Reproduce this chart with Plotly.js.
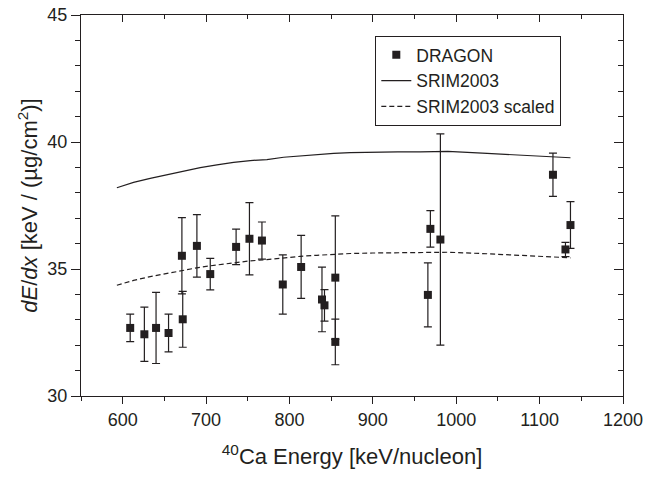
<!DOCTYPE html>
<html>
<head>
<meta charset="utf-8">
<script src="https://cdn.plot.ly/plotly-3.0.1.min.js"></script>
<style>html,body{margin:0;padding:0;background:#fff;}#chart{width:646px;height:480px;}</style>
</head>
<body>
<div id="chart"></div>
<script>
// DRAGON measured stopping powers
const energy = [609, 626, 640, 655, 672, 671, 689, 705, 736, 752, 767, 792, 814, 839, 842, 855, 855, 966, 969, 981, 1116, 1131, 1137];
const dedx   = [32.68, 32.43, 32.68, 32.48, 33.02, 35.52, 35.91, 34.80, 35.87, 36.19, 36.12, 34.39, 35.08, 33.80, 33.57, 34.66, 32.13, 33.98, 36.58, 36.16, 38.71, 35.77, 36.73];
const dedxErr = [0.54, 1.07, 1.40, 0.74, 1.10, 1.50, 1.23, 0.62, 0.70, 1.42, 0.73, 1.17, 1.24, 1.27, 0.62, 2.43, 0.90, 1.26, 0.72, 4.16, 0.85, 0.28, 0.92];

// SRIM2003 curves
const srimEnergy = [593, 613, 633, 653, 673, 693, 713, 733, 753, 773, 793, 813, 833, 853, 873, 900, 930, 957, 990, 1037, 1080, 1110, 1137];
const srim       = [38.20, 38.41, 38.57, 38.72, 38.87, 38.99, 39.10, 39.20, 39.27, 39.31, 39.40, 39.46, 39.50, 39.55, 39.58, 39.60, 39.61, 39.61, 39.63, 39.55, 39.48, 39.42, 39.38];
const srimScaled = [34.36, 34.55, 34.70, 34.83, 34.96, 35.07, 35.16, 35.25, 35.32, 35.37, 35.44, 35.50, 35.54, 35.58, 35.61, 35.63, 35.64, 35.65, 35.66, 35.60, 35.53, 35.48, 35.44];

const xRange = [550, 1200];
const yRange = [30, 45];
const FONT = 'Liberation Sans, Arial, sans-serif';
const INK = '#231f20';

const traces = [
  {
    x: energy, y: dedx, type: 'scatter', mode: 'markers', name: 'DRAGON',
    marker: {symbol: 'square', size: 8, color: INK},
    error_y: {type: 'data', array: dedxErr, visible: true, color: INK, thickness: 1.2, width: 4}
  },
  {
    x: srimEnergy, y: srim, type: 'scatter', mode: 'lines', name: 'SRIM2003',
    line: {color: INK, width: 1.2}
  },
  {
    x: srimEnergy, y: srimScaled, type: 'scatter', mode: 'lines', name: 'SRIM2003 scaled',
    line: {color: INK, width: 1.2, dash: '5px,3px'}
  },
  {
    x: [], y: [], xaxis: 'x2', yaxis: 'y2', type: 'scatter', mode: 'markers',
    showlegend: false, hoverinfo: 'skip'
  }
];

const layout = {
  width: 646, height: 480,
  margin: {l: 81, r: 23, t: 15, b: 84},
  paper_bgcolor: '#fff', plot_bgcolor: '#fff',
  font: {family: FONT, color: INK, size: 18},
  showlegend: true,
  legend: {
    x: 0.543, y: 0.945, xanchor: 'left', yanchor: 'top',
    bordercolor: INK, borderwidth: 1, bgcolor: '#fff',
    font: {family: FONT, size: 17.5, color: INK},
    tracegroupgap: 0
  },
  xaxis: {
    range: xRange, dtick: 100, tick0: 0,
    showgrid: false, zeroline: false,
    showline: true, linecolor: INK, linewidth: 1,
    ticks: 'outside', ticklen: 7, tickwidth: 1, tickcolor: INK,
    minor: {dtick: 50, ticks: 'outside', ticklen: 4, tickcolor: INK, showgrid: false},
    tickfont: {size: 18, family: FONT, color: INK},
    title: {text: '<sup>40</sup>Ca Energy [keV/nucleon]', font: {size: 22, family: FONT, color: INK}, standoff: 20}
  },
  yaxis: {
    range: yRange, dtick: 5, tick0: 0,
    showgrid: false, zeroline: false,
    showline: true, linecolor: INK, linewidth: 1,
    ticks: 'outside', ticklen: 9, tickwidth: 1, tickcolor: INK,
    minor: {dtick: 1, ticks: 'outside', ticklen: 5, tickcolor: INK, showgrid: false},
    tickfont: {size: 18, family: FONT, color: INK},
    title: {text: '<i>dE</i>/<i>dx</i> [keV / (\u00b5g/cm<sup>2</sup>)]', font: {size: 22, family: FONT, color: INK}, standoff: 3}
  },
  xaxis2: {
    overlaying: 'x', side: 'top', range: xRange, dtick: 100, tick0: 0,
    showgrid: false, zeroline: false, showticklabels: false,
    showline: true, linecolor: INK, linewidth: 1,
    ticks: 'inside', ticklen: 7, tickcolor: INK,
    minor: {dtick: 50, ticks: 'inside', ticklen: 4, tickcolor: INK, showgrid: false}
  },
  yaxis2: {
    overlaying: 'y', side: 'right', range: yRange, dtick: 5, tick0: 0,
    showgrid: false, zeroline: false, showticklabels: false,
    showline: true, linecolor: INK, linewidth: 1,
    ticks: 'inside', ticklen: 9, tickcolor: INK,
    minor: {dtick: 1, ticks: 'inside', ticklen: 5, tickcolor: INK, showgrid: false}
  }
};

Plotly.newPlot('chart', traces, layout, {staticPlot: true, displayModeBar: false});
</script>
</body>
</html>
